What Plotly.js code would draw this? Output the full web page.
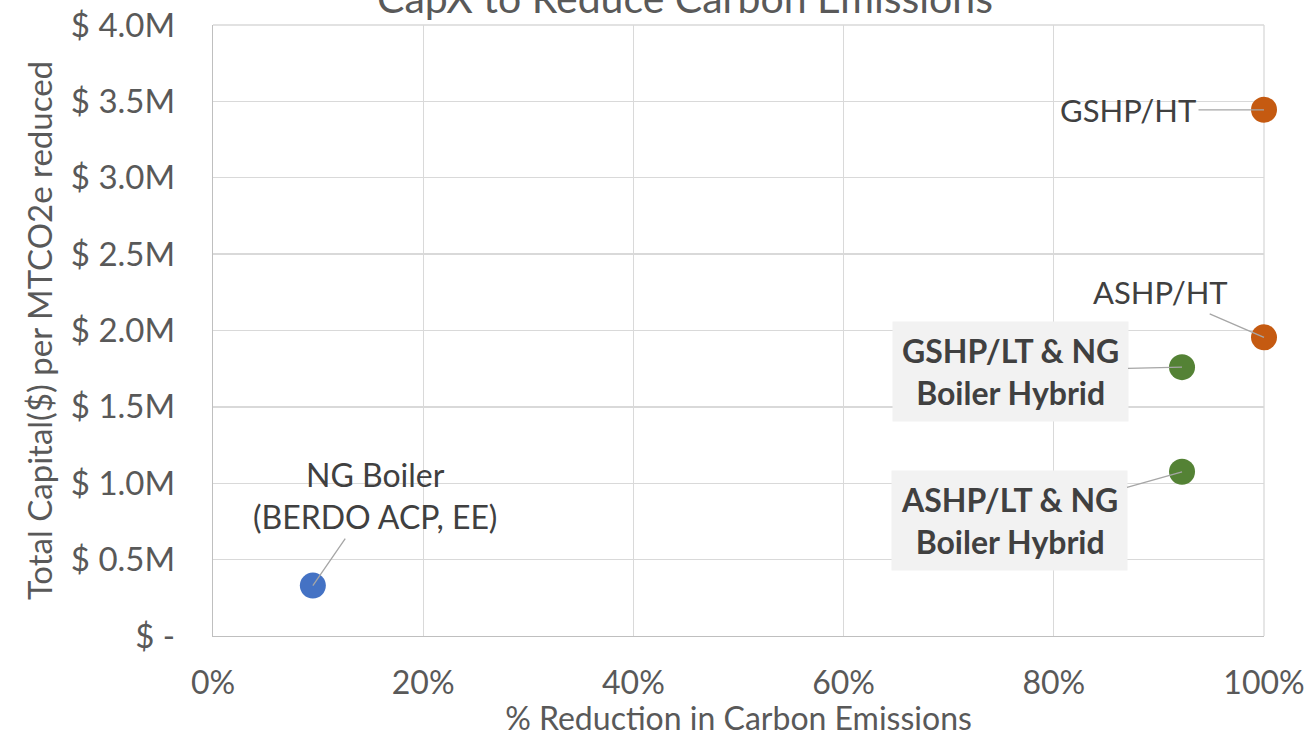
<!DOCTYPE html>
<html>
<head>
<meta charset="utf-8">
<script src="https://cdn.plot.ly/plotly-3.0.1.min.js"></script>
<style>html,body{margin:0;padding:0;background:#fff;}#chart{width:1311px;height:737px;}</style>
</head>
<body>
<div id="chart"></div>
<script>
const seriesNames = ["NG Boiler", "GSHP/HT", "ASHP/HT", "GSHP/LT & NG Boiler Hybrid", "ASHP/LT & NG Boiler Hybrid"];
const reductionPct = [0.095, 1.0, 1.0, 0.922, 0.922];
const capitalPerMT = [330000, 3445000, 1955000, 1760000, 1075000];
const pointLabels = ["NG Boiler<br>(BERDO ACP, EE)", "GSHP/HT", "ASHP/HT", "<b>GSHP/LT &amp; NG<br>Boiler Hybrid</b>", "<b>ASHP/LT &amp; NG<br>Boiler Hybrid</b>"];
const pointColors = ["#4472C4", "#C55A11", "#C55A11", "#548235", "#548235"];
const yTickVals = [0, 500000, 1000000, 1500000, 2000000, 2500000, 3000000, 3500000, 4000000];
const yTickText = ["$ -", "$ 0.5M", "$ 1.0M", "$ 1.5M", "$ 2.0M", "$ 2.5M", "$ 3.0M", "$ 3.5M", "$ 4.0M"];
const xTickVals = [0, 0.2, 0.4, 0.6, 0.8, 1.0];
const xTickText = ["0%", "20%", "40%", "60%", "80%", "100%"];
const chartTitle = "CapX to Reduce Carbon Emissions";
const xTitle = "% Reduction in Carbon Emissions";
const yTitle = "Total Capital($) per MTCO2e reduced";

const FONT = "Lato, 'Open Sans', sans-serif";

const traces = seriesNames.map((n, i) => ({
  type: "scatter", mode: "markers", name: n,
  x: [reductionPct[i]], y: [capitalPerMT[i]],
  marker: {size: 26, color: pointColors[i]},
  cliponaxis: false,
  hoverinfo: "skip", showlegend: false
}));

const labelStyle = [
  {ax: 62, ay: -90, bg: "rgba(0,0,0,0)", size: 32},
  {ax: -136, ay: 0, bg: "rgba(0,0,0,0)", size: 31},
  {ax: -104, ay: -45, bg: "rgba(0,0,0,0)", size: 31},
  {ax: -172, ay: 4, bg: "#F2F2F2", size: 32},
  {ax: -173, ay: 49, bg: "#F2F2F2", size: 32}
];

const annotations = seriesNames.map((n, i) => ({
  x: reductionPct[i], y: capitalPerMT[i], xref: "x", yref: "y",
  text: pointLabels[i], showarrow: true, arrowhead: 0, arrowwidth: 1.3,
  arrowcolor: "#A6A6A6", ax: labelStyle[i].ax, ay: labelStyle[i].ay,
  bgcolor: labelStyle[i].bg, borderpad: i >= 3 ? 9 : 2,
  font: {family: FONT, size: labelStyle[i].size, color: "#404040"}, align: "center",
  standoff: 0
}));

annotations.push({
  xref: "paper", yref: "paper", x: 0.449, y: 1.045, yanchor: "middle",
  text: chartTitle, showarrow: false,
  font: {family: FONT, size: 41, color: "#595959"}
});

const edgeLine = {color: "#D9D9D9", width: 1.3};
const layout = {
  width: 1311, height: 737,
  margin: {l: 213, r: 47, t: 25, b: 101},
  paper_bgcolor: "#fff", plot_bgcolor: "#fff",
  font: {family: FONT, color: "#595959"},
  xaxis: {
    range: [0, 1], tickvals: xTickVals, ticktext: xTickText,
    showgrid: true, gridcolor: "#D9D9D9", gridwidth: 1.3,
    showline: true, linecolor: "#BFBFBF", linewidth: 1.3,
    zeroline: false, ticks: "", ticklabelstandoff: 18,
    tickfont: {family: FONT, size: 32, color: "#595959"},
    title: {text: xTitle, standoff: 9, font: {family: FONT, size: 32, color: "#595959"}},
    automargin: false, fixedrange: true
  },
  yaxis: {
    range: [0, 4000000], tickvals: yTickVals, ticktext: yTickText,
    showgrid: true, gridcolor: "#D9D9D9", gridwidth: 1.3,
    showline: true, linecolor: "#BFBFBF", linewidth: 1.3,
    zeroline: false, ticks: "", ticklabelstandoff: 30,
    tickfont: {family: FONT, size: 33, color: "#595959"},
    title: {text: yTitle, standoff: 8, font: {family: FONT, size: 33, color: "#595959"}},
    automargin: false, fixedrange: true
  },
  shapes: [
    {type: "line", xref: "paper", yref: "paper", x0: 1, x1: 1, y0: 0, y1: 1, line: edgeLine, layer: "below"},
    {type: "line", xref: "paper", yref: "paper", x0: 0, x1: 1, y0: 1, y1: 1, line: edgeLine, layer: "below"}
  ],
  annotations: annotations
};

Plotly.newPlot("chart", traces, layout, {displayModeBar: false, staticPlot: true});
</script>
</body>
</html>
